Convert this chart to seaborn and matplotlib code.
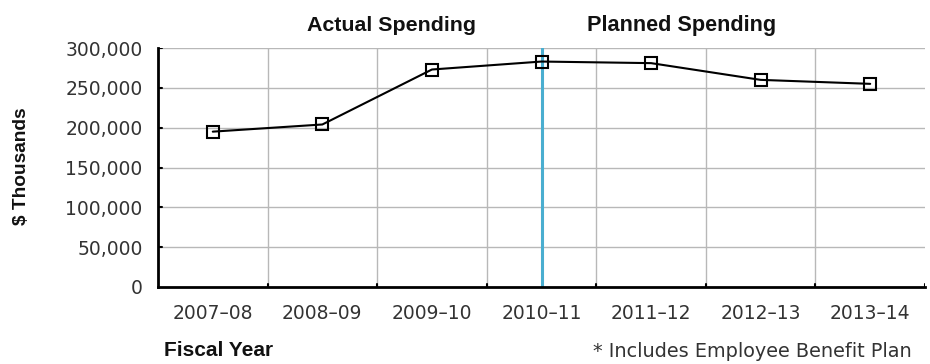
import matplotlib
matplotlib.use("Agg")
import matplotlib.pyplot as plt
import seaborn as sns
import pandas as pd
import numpy as np

years = ["2007–08", "2008–09", "2009–10", "2010–11", "2011–12", "2012–13", "2013–14"]
spending = [195000, 204000, 273000, 283000, 281000, 260000, 255000]
yticks = [0, 50000, 100000, 150000, 200000, 250000, 300000]

sns.set_theme(style="white")
plt.rcParams['font.family'] = ['DejaVu Sans']

df = pd.DataFrame({"year": years, "spending": spending})
df["pos"] = np.arange(len(years)) + 0.5

fig = plt.figure(figsize=(9.3, 3.64), dpi=100)
ax = fig.add_axes([158/930, 1-287/364, (925-158)/930, (287-48)/364])

sns.lineplot(data=df, x="pos", y="spending", ax=ax, color="black", lw=1.5,
             marker="s", markersize=8.5, markerfacecolor="none",
             markeredgecolor="black", markeredgewidth=1.5)

ax.set_xlim(0, len(years))
ax.set_ylim(0, 300000)
ax.set_yticks(yticks)
ax.set_yticklabels([f"{v:,}" for v in yticks], fontsize=13.5, color="#333333")
ax.set_xticks(df["pos"])
ax.set_xticklabels(years, fontsize=13.5, color="#333333")
ax.tick_params(axis="x", length=0, pad=12)
ax.tick_params(axis="y", length=0, pad=11)

for v in yticks[1:]:
    ax.axhline(v, color="#b8b8b8", lw=1, zorder=0)
for i in range(1, len(years)):
    ax.axvline(i, color="#b8b8b8", lw=1, zorder=0)
    ax.plot([i, i], [0, 4000], color="black", lw=1.5)
ax.plot([len(years)]*2, [0, 4000], color="black", lw=1.5)
for v in yticks[1:]:
    ax.plot([0, 0.04], [v, v], color="black", lw=1.5)

ax.axvline(3.5, color="#4aaed0", lw=2.2, zorder=1)

for s in ["top", "right"]:
    ax.spines[s].set_visible(False)
for s in ["left", "bottom"]:
    ax.spines[s].set_color("black")
    ax.spines[s].set_linewidth(2)
ax.set_xlabel("")
ax.set_ylabel("")

fam = ['Liberation Sans', 'DejaVu Sans']
fig.text(391/930, 1-31/364, "Actual Spending", ha="center", va="baseline",
         fontsize=15.4, fontweight="bold", family=fam, color="#111111")
fig.text(682/930, 1-31/364, "Planned Spending", ha="center", va="baseline",
         fontsize=15.6, fontweight="bold", family=fam, color="#111111")
fig.text(22/930, 1-166/364, "$ Thousands", ha="center", va="center",
         rotation=90, fontsize=13.8, fontweight="bold", family=fam, color="#111111")
fig.text(219/930, 1-356/364, "Fiscal Year", ha="center", va="baseline",
         fontsize=15, fontweight="bold", family=fam, color="#111111")
fig.text(912/930, 1-357/364, "* Includes Employee Benefit Plan", ha="right",
         va="baseline", fontsize=13.9, color="#333333")

fig.savefig("out.png", dpi=100)
